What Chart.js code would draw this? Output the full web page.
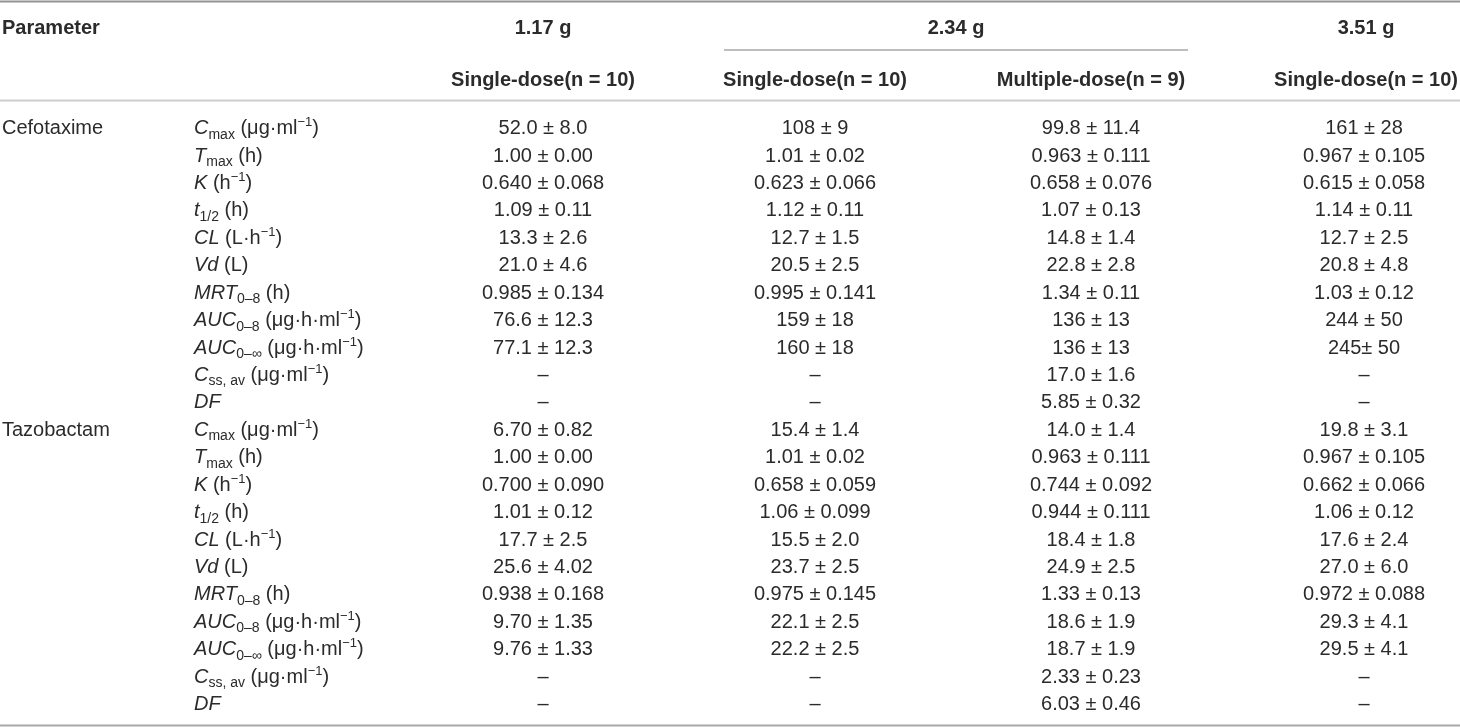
<!DOCTYPE html>
<html><head><meta charset="utf-8">
<script src="https://cdn.jsdelivr.net/npm/chart.js@4.4.1/dist/chart.umd.min.js"></script>
<style>html,body{margin:0;padding:0;background:#fff;overflow:hidden}canvas{display:block}</style>
</head><body>
<canvas id="c" width="1460" height="727"></canvas>
<script>
// ---------- DATA ----------
const groups = ['Cefotaxime', 'Tazobactam'];
const params = [
  '*C*_{max} (μg·ml^{−1})',
  '*T*_{max} (h)',
  '*K* (h^{−1})',
  '*t*_{1/2} (h)',
  '*CL* (L·h^{−1})',
  '*Vd* (L)',
  '*MRT*_{0–8} (h)',
  '*AUC*_{0–8} (μg·h·ml^{−1})',
  '*AUC*_{0–∞} (μg·h·ml^{−1})',
  '*C*_{ss, av} (μg·ml^{−1})',
  '*DF*'
];
const doseHeaders = ['1.17 g', '2.34 g', '3.51 g'];
const regimenHeaders = ['Single-dose(n = 10)', 'Single-dose(n = 10)', 'Multiple-dose(n = 9)', 'Single-dose(n = 10)'];
const parameterHeader = 'Parameter';

const cefo_117_single = ['52.0 ± 8.0','1.00 ± 0.00','0.640 ± 0.068','1.09 ± 0.11','13.3 ± 2.6','21.0 ± 4.6','0.985 ± 0.134','76.6 ± 12.3','77.1 ± 12.3','–','–'];
const cefo_234_single = ['108 ± 9','1.01 ± 0.02','0.623 ± 0.066','1.12 ± 0.11','12.7 ± 1.5','20.5 ± 2.5','0.995 ± 0.141','159 ± 18','160 ± 18','–','–'];
const cefo_234_multi  = ['99.8 ± 11.4','0.963 ± 0.111','0.658 ± 0.076','1.07 ± 0.13','14.8 ± 1.4','22.8 ± 2.8','1.34 ± 0.11','136 ± 13','136 ± 13','17.0 ± 1.6','5.85 ± 0.32'];
const cefo_351_single = ['161 ± 28','0.967 ± 0.105','0.615 ± 0.058','1.14 ± 0.11','12.7 ± 2.5','20.8 ± 4.8','1.03 ± 0.12','244 ± 50','245± 50','–','–'];

const tazo_117_single = ['6.70 ± 0.82','1.00 ± 0.00','0.700 ± 0.090','1.01 ± 0.12','17.7 ± 2.5','25.6 ± 4.02','0.938 ± 0.168','9.70 ± 1.35','9.76 ± 1.33','–','–'];
const tazo_234_single = ['15.4 ± 1.4','1.01 ± 0.02','0.658 ± 0.059','1.06 ± 0.099','15.5 ± 2.0','23.7 ± 2.5','0.975 ± 0.145','22.1 ± 2.5','22.2 ± 2.5','–','–'];
const tazo_234_multi  = ['14.0 ± 1.4','0.963 ± 0.111','0.744 ± 0.092','0.944 ± 0.111','18.4 ± 1.8','24.9 ± 2.5','1.33 ± 0.13','18.6 ± 1.9','18.7 ± 1.9','2.33 ± 0.23','6.03 ± 0.46'];
const tazo_351_single = ['19.8 ± 3.1','0.967 ± 0.105','0.662 ± 0.066','1.06 ± 0.12','17.6 ± 2.4','27.0 ± 6.0','0.972 ± 0.088','29.3 ± 4.1','29.5 ± 4.1','–','–'];

// ---------- LAYOUT (pixel units of the linear scales) ----------
const W = 1460, H = 727;
const FIRST_ROW_Y = 127, ROW_STEP = 27.43;
const VALUE_COL_X = [543, 815, 1091, 1364];
const HEAD_COL_X = [543, 815, 1091, 1366];
const DOSE_X = [543, 956, 1366];
const HEAD1_Y = 27, HEAD2_Y = 78.5;
const GROUP_X = 2, PARAM_X = 194;
const FONT_FAMILY = '"Liberation Sans", Arial, Helvetica, sans-serif';
const TEXT_COLOR = '#2b2b2b';
const RULES = [
  { y: 1.5,   x0: 0,   x1: W,    w: 2,   color: '#939393' },
  { y: 50,    x0: 724, x1: 1188, w: 1.5, color: '#a8a8a8' },
  { y: 100.5, x0: 0,   x1: W,    w: 2,   color: '#cdcdcd' },
  { y: 725.5, x0: 0,   x1: W,    w: 2,   color: '#a8a8a8' }
];

// ---------- BUILD POINTS ----------
const valueCols = [
  cefo_117_single.concat(tazo_117_single),
  cefo_234_single.concat(tazo_234_single),
  cefo_234_multi.concat(tazo_234_multi),
  cefo_351_single.concat(tazo_351_single)
];
const rowY = i => FIRST_ROW_Y + i * ROW_STEP;
const nRows = params.length * groups.length;

const valuePts = [];
valueCols.forEach((col, c) => col.forEach((t, r) => valuePts.push({ x: VALUE_COL_X[c], y: rowY(r), text: t })));
const paramPts = [];
for (let r = 0; r < nRows; r++) paramPts.push({ x: PARAM_X, y: rowY(r), text: params[r % params.length] });
const groupPts = groups.map((g, i) => ({ x: GROUP_X, y: rowY(i * params.length), text: g }));
const headPts = [{ x: GROUP_X, y: HEAD1_Y, text: parameterHeader, align: 'left' }];
doseHeaders.forEach((d, i) => headPts.push({ x: DOSE_X[i], y: HEAD1_Y, text: d, align: 'center' }));
regimenHeaders.forEach((d, i) => headPts.push({ x: HEAD_COL_X[i], y: HEAD2_Y, text: d, align: 'center' }));

// ---------- RICH TEXT ----------
function parseRich(s) {
  const segs = []; let buf = '', italic = false, i = 0;
  const flush = () => { if (buf) { segs.push({ t: buf, kind: 'n', italic }); buf = ''; } };
  while (i < s.length) {
    const ch = s[i];
    if (ch === '*') { flush(); italic = !italic; i++; }
    else if ((ch === '_' || ch === '^') && s[i + 1] === '{') {
      flush(); const j = s.indexOf('}', i);
      segs.push({ t: s.slice(i + 2, j), kind: ch === '_' ? 'sub' : 'sup', italic: false });
      i = j + 1;
    } else { buf += ch; i++; }
  }
  flush();
  return segs;
}
function segFont(seg, size, weight) {
  let sz = size, st = seg.italic ? 'italic ' : '';
  if (seg.kind === 'sub') sz = Math.round(size * 0.72);
  if (seg.kind === 'sup') sz = Math.round(size * 0.66);
  return st + (weight || 'normal') + ' ' + sz + 'px ' + FONT_FAMILY;
}
function drawRich(ctx, s, x, cy, size, weight, align) {
  const segs = parseRich(s);
  const base = cy + size * 0.358;
  let total = 0;
  segs.forEach(sg => { ctx.font = segFont(sg, size, weight); sg.w = ctx.measureText(sg.t).width; total += sg.w; });
  let cx = align === 'center' ? x - total / 2 : x;
  segs.forEach(sg => {
    ctx.font = segFont(sg, size, weight);
    let dy = 0;
    if (sg.kind === 'sub') dy = size * 0.22;
    if (sg.kind === 'sup') dy = -size * 0.40;
    ctx.fillText(sg.t, cx, base + dy);
    cx += sg.w;
  });
}

const tablePlugin = {
  id: 'tableText',
  beforeDatasetsDraw(chart) {
    const { ctx, scales: { x, y } } = chart;
    ctx.save();
    RULES.forEach(r => {
      ctx.strokeStyle = r.color; ctx.lineWidth = r.w;
      ctx.beginPath();
      ctx.moveTo(x.getPixelForValue(r.x0), y.getPixelForValue(r.y));
      ctx.lineTo(x.getPixelForValue(r.x1), y.getPixelForValue(r.y));
      ctx.stroke();
    });
    ctx.restore();
  },
  afterDatasetsDraw(chart) {
    const ctx = chart.ctx;
    ctx.save();
    ctx.fillStyle = TEXT_COLOR;
    ctx.textAlign = 'left';
    ctx.textBaseline = 'alphabetic';
    chart.data.datasets.forEach((ds, di) => {
      const meta = chart.getDatasetMeta(di);
      meta.data.forEach((el, i) => {
        const p = ds.data[i];
        drawRich(ctx, p.text, el.x, el.y, ds.cellSize, ds.cellWeight, p.align || ds.cellAlign);
      });
    });
    ctx.restore();
  }
};

new Chart(document.getElementById('c'), {
  type: 'scatter',
  data: {
    datasets: [
      { label: 'header', data: headPts, cellSize: 20, cellWeight: 'bold', cellAlign: 'center', pointRadius: 0 },
      { label: 'group', data: groupPts, cellSize: 20, cellWeight: 'normal', cellAlign: 'left', pointRadius: 0 },
      { label: 'param', data: paramPts, cellSize: 20, cellWeight: 'normal', cellAlign: 'left', pointRadius: 0 },
      { label: 'values', data: valuePts, cellSize: 20, cellWeight: 'normal', cellAlign: 'center', pointRadius: 0 }
    ]
  },
  options: {
    responsive: false,
    animation: false,
    devicePixelRatio: 1,
    layout: { padding: 0 },
    events: [],
    plugins: { legend: { display: false }, tooltip: { enabled: false } },
    scales: {
      x: { type: 'linear', min: 0, max: W, display: false },
      y: { type: 'linear', min: 0, max: H, reverse: true, display: false }
    }
  },
  plugins: [tablePlugin]
});
</script>
</body></html>
